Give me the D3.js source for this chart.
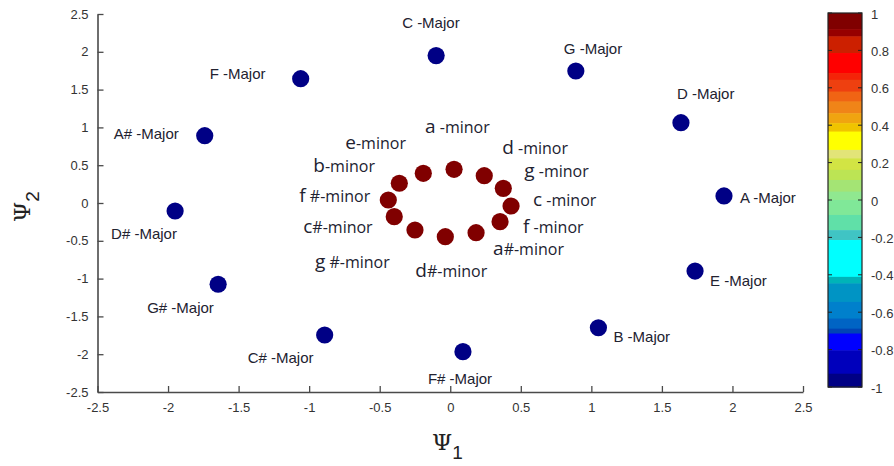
<!DOCTYPE html>
<html><head><meta charset="utf-8">
<script src="https://cdn.jsdelivr.net/npm/d3@7"></script>
<style>
html,body{margin:0;padding:0;background:#fff;}
svg{display:block;}
</style></head>
<body>
<svg id="chart" width="894" height="466"></svg>
<script>
// ---------- data ----------
const xTicks = [-2.5,-2,-1.5,-1,-0.5,0,0.5,1,1.5,2,2.5];
const yTicks = [-2.5,-2,-1.5,-1,-0.5,0,0.5,1,1.5,2,2.5];
const cbTicks = [1,0.8,0.6,0.4,0.2,0,-0.2,-0.4,-0.6,-0.8,-1];

const majorKeys = ["C","G","D","A","E","B","F#","C#","G#","D#","A#","F"];
const majorX = [-0.10, 0.89, 1.635, 1.94, 1.735, 1.05, 0.09, -0.89, -1.645, -1.95, -1.74, -1.06];
const majorY = [1.95, 1.746, 1.062, 0.093, -0.90, -1.65, -1.967, -1.746, -1.075, -0.106, 0.89, 1.644];
const majorValue = -1;

const minorKeys = ["a","e","b","f#","c#","g#","d#","a#","f","c","g","d"];
const minorX = [0.027, -0.191, -0.361, -0.439, -0.397, -0.25, -0.035, 0.183, 0.353, 0.431, 0.376, 0.241];
const minorY = [0.446, 0.393, 0.261, 0.04, -0.181, -0.357, -0.446, -0.393, -0.247, -0.04, 0.194, 0.361];
const minorValue = 1;

// label text pieces
const majorLabels = ["C -Major","G -Major","D -Major","A -Major","E -Major","B -Major","F# -Major","C# -Major","G# -Major","D# -Major","A# -Major","F -Major"];
const minorLetter = ["a","e","b","f","c","g","d","a","f","c","g","d"];
const minorSuffix = [" -minor","-minor","-minor"," #-minor","#-minor"," #-minor","#-minor","#-minor"," -minor"," -minor"," -minor"," -minor"];

// colormap bands: upper boundary values (top to bottom) and colours
const cmapBounds = [1, 0.914, 0.875, 0.786, 0.679, 0.643, 0.58, 0.527, 0.464, 0.411, 0.366, 0.268, 0.223, 0.161, 0.107, 0.045, 0.0, -0.08, -0.161, -0.214, -0.411, -0.446, -0.545, -0.634, -0.688, -0.714, -0.804, -0.929, -1];
const cmapColors = ["#800000","#960000","#cc2000","#ff0000","#f42408","#ee4010","#f06414","#f08418","#f0a410","#f0c400","#ffff00","#e2e478","#d2e444","#bce454","#a4e474","#90e890","#80e898","#60e0a8","#40c4c4","#00ffff","#00b4b8","#0094c4","#0080cc","#0064c4","#0044b4","#0000ff","#0000bc","#000085"];

// ---------- layout (pixels, not data) ----------
const W = 894, H = 466;
const plotL = 97.5, plotR = 803, plotT = 14, plotB = 392;
const cbL = 828, cbR = 862, cbT = 13, cbB = 387;
const dotR = 8.6;
// label offsets from their point, in pixels [dx (left edge), dy (centre)]
const majorOff = [[-34,-33],[-12,-23],[-4,-29],[16,2],[15,9],[15,9],[-35,27],[-77,23],[-71,23],[-64,22],[-91,-2],[-91,-5]];
const minorOff = [[-29,-41],[-78,-29],[-86,-16],[-89,-3],[-91,11],[-100,33],[-30,35],[17,17],[23,6],[22,-5],[21,-16],[18,-27]];

const svg = d3.select("#chart");
const x = d3.scaleLinear().domain([-2.5,2.5]).range([plotL,plotR]);
const y = d3.scaleLinear().domain([-2.5,2.5]).range([plotB,plotT]);
const cbY = d3.scaleLinear().domain([-1,1]).range([cbB,cbT]);

function colorFor(v){
  for(let i=0;i<cmapColors.length;i++){
    if(v<=cmapBounds[i] && v>=cmapBounds[i+1]) return cmapColors[i];
  }
  return cmapColors[cmapColors.length-1];
}

const tickFont = "Liberation Sans, Arial, sans-serif";
const axisColor = "#4a4a4a";
const fmt = d => String(d);

// axes
const gx = svg.append("g").attr("transform",`translate(0,${plotB})`)
  .call(d3.axisBottom(x).tickValues(xTicks).tickFormat(fmt).tickSizeInner(-6).tickSizeOuter(0).tickPadding(11));
const gy = svg.append("g").attr("transform",`translate(${plotL},0)`)
  .call(d3.axisLeft(y).tickValues(yTicks).tickFormat(fmt).tickSizeInner(-6).tickSizeOuter(0).tickPadding(9));
[gx,gy].forEach(g=>{
  g.select(".domain").attr("stroke",axisColor).attr("stroke-width",1.6);
  g.selectAll(".tick line").attr("stroke",axisColor).attr("stroke-width",1.3);
  g.selectAll(".tick text").attr("fill","#333").style("font-family",tickFont).style("font-size","13px");
});

// axis titles
const xt = svg.append("text").attr("x",432).attr("y",450).attr("fill","#222");
xt.append("tspan").text("Ψ").style("font-family","DejaVu Serif, serif").style("font-size","23px");
xt.append("tspan").text("1").attr("dy",9).style("font-family",tickFont).style("font-size","19px");

const yt = svg.append("text").attr("transform","translate(30,222) rotate(-90)").attr("fill","#222");
yt.append("tspan").text("Ψ").style("font-family","DejaVu Serif, serif").style("font-size","23px");
yt.append("tspan").text("2").attr("dy",9).style("font-family",tickFont).style("font-size","19px");

// points
const majors = majorKeys.map((k,i)=>({k, x:majorX[i], y:majorY[i], v:majorValue, label:majorLabels[i], off:majorOff[i]}));
const minors = minorKeys.map((k,i)=>({k, x:minorX[i], y:minorY[i], v:minorValue, letter:minorLetter[i], suffix:minorSuffix[i], off:minorOff[i]}));

svg.append("g").selectAll("circle").data(majors.concat(minors)).join("circle")
  .attr("cx",d=>x(d.x)).attr("cy",d=>y(d.y)).attr("r",dotR)
  .attr("fill",d=>colorFor(d.v));

// major labels
svg.append("g").selectAll("text").data(majors).join("text")
  .attr("x",d=>x(d.x)+d.off[0]).attr("y",d=>y(d.y)+d.off[1])
  .attr("dominant-baseline","central")
  .attr("fill","#222230")
  .style("font-family",tickFont).style("font-size","15px")
  .text(d=>d.label);

// minor labels
const mt = svg.append("g").selectAll("text").data(minors).join("text")
  .attr("x",d=>x(d.x)+d.off[0]).attr("y",d=>y(d.y)+d.off[1]+5)
  .attr("fill","#222230")
  .style("font-family","Open Sans, sans-serif");
mt.append("tspan").text(d=>d.letter).style("font-size","19px");
mt.append("tspan").text(d=>d.suffix).style("font-size","16px");

// colorbar
const cb = svg.append("g");
cb.selectAll("rect.band").data(cmapColors).join("rect").attr("class","band")
  .attr("x",cbL).attr("width",cbR-cbL)
  .attr("y",(c,i)=>cbY(cmapBounds[i]))
  .attr("height",(c,i)=>cbY(cmapBounds[i+1])-cbY(cmapBounds[i])+0.5)
  .attr("fill",c=>c);
cb.append("rect").attr("x",cbL).attr("y",cbT).attr("width",cbR-cbL).attr("height",cbB-cbT)
  .attr("fill","none").attr("stroke","#222").attr("stroke-width",1.2);
cb.selectAll("line.tl").data(cbTicks).join("line").attr("class","tl")
  .attr("x1",cbL).attr("x2",cbL+4).attr("y1",d=>cbY(d)).attr("y2",d=>cbY(d)).attr("stroke","#222");
cb.selectAll("line.tr").data(cbTicks).join("line").attr("class","tr")
  .attr("x1",cbR-4).attr("x2",cbR).attr("y1",d=>cbY(d)).attr("y2",d=>cbY(d)).attr("stroke","#222");
cb.selectAll("text").data(cbTicks).join("text")
  .attr("x",cbR+9).attr("y",d=>cbY(d)+1).attr("dominant-baseline","central")
  .attr("fill","#333").style("font-family",tickFont).style("font-size","13px")
  .text(fmt);
</script>
</body></html>
